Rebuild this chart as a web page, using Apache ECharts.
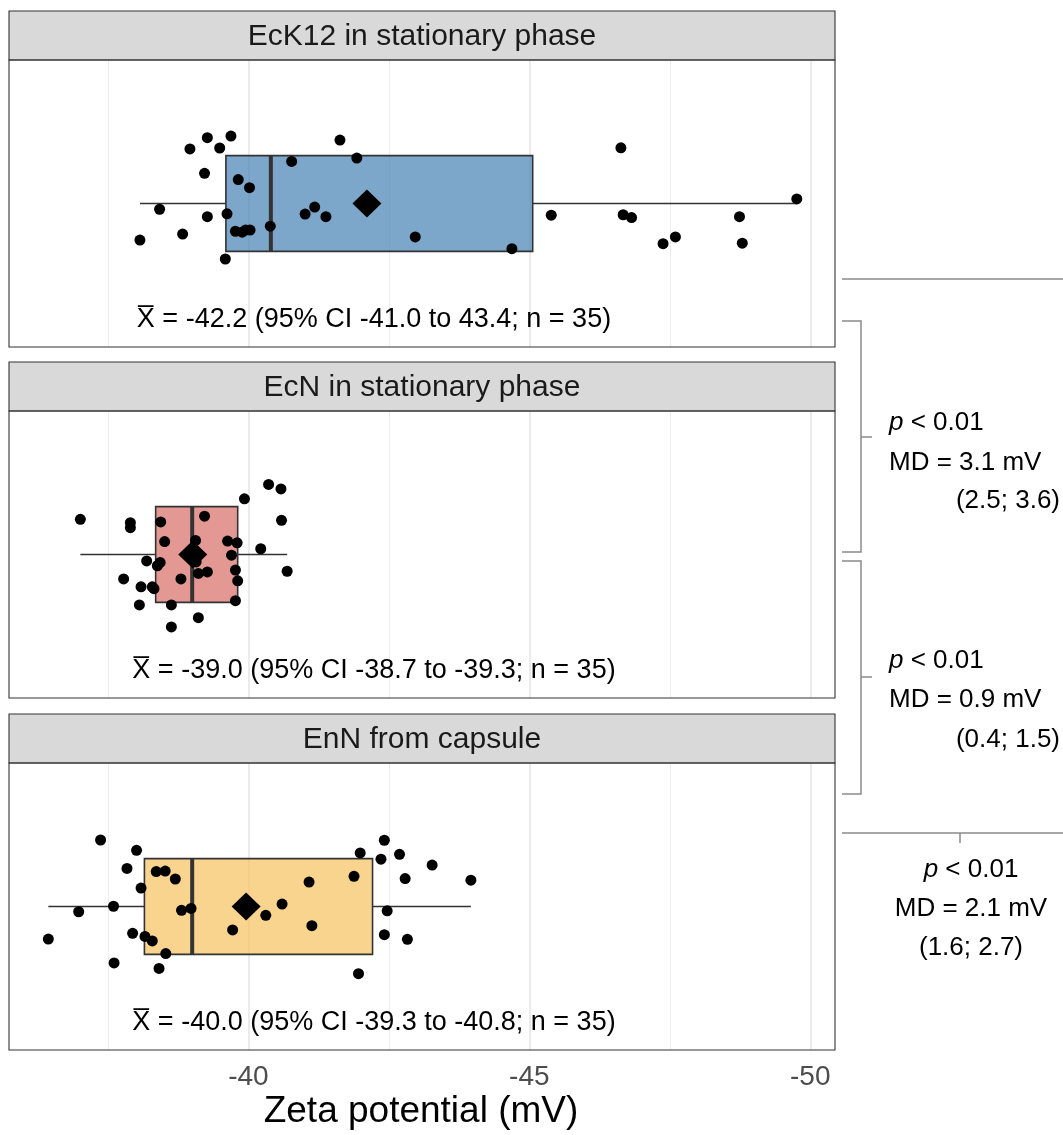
<!DOCTYPE html>
<html><head><meta charset="utf-8">
<script src="https://cdn.jsdelivr.net/npm/echarts@6/dist/echarts.min.js"></script>
<style>html,body{margin:0;padding:0;background:#fff}#c{width:1063px;height:1135px}</style>
</head><body><div id="c"></div><script>
// ---- data ----
const panelTitles = ['EcK12 in stationary phase', 'EcN in stationary phase', 'EnN from capsule'];
const summaryTexts = [
  'X\u0305 = -42.2 (95% CI -41.0 to 43.4; n = 35)',
  'X\u0305 = -39.0 (95% CI -38.7 to -39.3; n = 35)',
  'X\u0305 = -40.0 (95% CI -39.3 to -40.8; n = 35)'
];
const ecK12Values = [-38.07,-38.42,-38.83,-38.96,-39.22,-39.27,-39.27,-39.49,-39.69,-39.62,-39.59,-39.77,-39.82,-39.95,-40.02,-40.03,-39.89,-40.39,-40.77,-41.01,-41.18,-41.38,-41.63,-41.93,-42.97,-44.69,-45.39,-46.63,-46.67,-46.82,-47.38,-47.60,-48.74,-48.79,-49.76];
const ecK12Jitter = [-0.153,-0.024,-0.128,0.228,0.126,0.275,-0.055,0.232,0.282,-0.043,-0.232,-0.116,0.100,-0.111,0.066,-0.111,-0.120,-0.095,0.176,-0.044,-0.015,-0.055,0.265,0.190,-0.140,-0.189,-0.049,0.233,-0.047,-0.059,-0.168,-0.140,-0.055,-0.166,0.019];
const ecNValues = [-37.01,-37.90,-37.90,-37.78,-38.06,-38.09,-38.19,-38.29,-38.32,-38.38,-38.43,-38.44,-38.51,-38.63,-38.63,-38.80,-39.06,-39.11,-39.11,-39.22,-39.27,-39.63,-39.80,-39.70,-39.77,-39.81,-39.77,-39.93,-40.22,-40.36,-40.58,-40.59,-40.69,-38.93,-39.07];
const ecNJitter = [0.147,0.133,0.112,-0.102,-0.211,-0.135,-0.027,-0.135,-0.143,-0.047,-0.033,0.136,0.054,-0.211,-0.303,-0.102,0.059,-0.079,-0.264,0.160,-0.073,0.056,0.049,-0.003,-0.065,-0.110,-0.193,0.233,0.024,0.293,0.274,0.143,-0.070,-0.006,-0.031];
const enNValues = [-36.44,-36.98,-37.37,-37.60,-37.61,-37.84,-37.94,-38.01,-38.09,-38.16,-38.29,-38.36,-38.41,-38.52,-38.53,-38.70,-38.81,-38.98,-39.72,-40.31,-40.60,-41.08,-41.13,-41.88,-41.96,-41.99,-42.36,-42.42,-42.42,-42.47,-42.69,-42.79,-42.83,-43.27,-43.96];
const enNJitter = [-0.136,-0.022,0.278,0.001,-0.236,0.159,-0.112,0.235,0.077,-0.125,-0.144,0.146,-0.259,0.148,-0.197,0.115,-0.016,-0.008,-0.098,-0.037,0.010,0.102,-0.080,0.126,-0.281,0.224,0.198,0.277,-0.118,-0.018,0.218,0.117,-0.137,0.173,0.110];
// [lower whisker, Q1, median, Q3, upper whisker]
const ecK12Box = [-38.07,-39.60,-40.40,-45.06,-49.76];
const ecNBox = [-37.01,-38.35,-39.00,-39.81,-40.69];
const enNBox = [-36.44,-38.15,-39.00,-42.21,-43.96];
const groupMeans = [-42.11,-39.01,-39.96];
const majorTicks = [-40,-45,-50];
const minorTicks = [-37.5,-42.5,-47.5];
const tickLabels = ['-40','-45','-50'];
const axisTitle = 'Zeta potential (mV)';
const compareTexts = [
  ['{i|p} < 0.01', 'MD = 3.1 mV', '(2.5; 3.6)'],
  ['{i|p} < 0.01', 'MD = 0.9 mV', '(0.4; 1.5)'],
  ['{i|p} < 0.01', 'MD = 2.1 mV', '(1.6; 2.7)']
];

// ---- styling / layout ----
const FONT = '"Liberation Sans", Arial, Helvetica, sans-serif';
const boxFills = ['rgba(70,130,180,0.7)','rgba(216,108,101,0.7)','rgba(246,194,94,0.7)'];
const allValues = [ecK12Values, ecNValues, enNValues];
const allJitter = [ecK12Jitter, ecNJitter, enNJitter];
const allBoxes = [ecK12Box, ecNBox, enNBox];
const PL = 9, PW = 826, PH = 287;
const panels = [{strip: 11, top: 60}, {strip: 362, top: 411}, {strip: 714, top: 763}];

const chart = echarts.init(document.getElementById('c'), null, {renderer: 'canvas'});

const grids = [], xAxes = [], yAxes = [], series = [], graphics = [];
panels.forEach((p, i) => {
  grids.push({left: PL, top: p.top, width: PW, height: PH, containLabel: false});
  const last = i === panels.length - 1;
  xAxes.push({
    type: 'value', gridIndex: i, inverse: true, min: -50.44, max: -35.74,
    axisLine: {show: false},
    splitLine: {show: false},
    axisTick: {show: last, customValues: majorTicks, length: 7, lineStyle: {color: '#333', width: 1.5}},
    axisLabel: {show: last, customValues: majorTicks, margin: 13, color: '#4d4d4d', fontSize: 28, fontFamily: FONT,
      formatter: v => tickLabels[majorTicks.indexOf(v)] }
  });
  yAxes.push({type: 'value', gridIndex: i, min: -0.6, max: 0.6, show: false});
  // grid lines
  series.push({
    type: 'scatter', xAxisIndex: i, yAxisIndex: i, data: [], z: 1, silent: true,
    markLine: {
      z: 1, zlevel: 0,
      silent: true, symbol: ['none','none'], label: {show: false}, animation: false,
      data: majorTicks.map(v => ({xAxis: v, lineStyle: {color: '#ebebeb', width: 2, type: 'solid'}}))
        .concat(minorTicks.map(v => ({xAxis: v, lineStyle: {color: '#ededed', width: 1, type: 'solid'}})))
    }
  });
  // box + whiskers
  series.push({
    type: 'custom', xAxisIndex: i, yAxisIndex: i, z: 2,
    itemStyle: {color: boxFills[i]},
    encode: {x: [0,1,2,3,4], y: 5},
    data: [allBoxes[i].concat([0])],
    renderItem: function (params, api) {
      const c = api.value(5);
      const pLo = api.coord([api.value(0), c]);
      const pQ1 = api.coord([api.value(1), c]);
      const pMd = api.coord([api.value(2), c]);
      const pQ3 = api.coord([api.value(3), c]);
      const pHi = api.coord([api.value(4), c]);
      const top = api.coord([api.value(1), c + 0.2])[1];
      const bot = api.coord([api.value(1), c - 0.2])[1];
      const ls = {stroke: '#333333', lineWidth: 1.6};
      return {type: 'group', children: [
        {type: 'line', shape: {x1: pLo[0], y1: pLo[1], x2: pQ1[0], y2: pQ1[1]}, style: ls},
        {type: 'line', shape: {x1: pQ3[0], y1: pQ3[1], x2: pHi[0], y2: pHi[1]}, style: ls},
        {type: 'rect', shape: {x: Math.min(pQ1[0], pQ3[0]), y: top, width: Math.abs(pQ3[0] - pQ1[0]), height: bot - top},
          style: {fill: api.visual('color'), stroke: '#333333', lineWidth: 1.6}},
        {type: 'line', shape: {x1: pMd[0], y1: top, x2: pMd[0], y2: bot}, style: {stroke: '#333333', lineWidth: 4}}
      ]};
    }
  });
  // jittered points
  series.push({
    type: 'scatter', xAxisIndex: i, yAxisIndex: i, z: 3, symbolSize: 11,
    itemStyle: {color: '#000', opacity: 1},
    data: allValues[i].map((v, k) => [v, allJitter[i][k]])
  });
  // mean diamond
  series.push({
    type: 'scatter', xAxisIndex: i, yAxisIndex: i, z: 4, symbol: 'diamond', symbolSize: [29, 28],
    itemStyle: {color: '#000', opacity: 1},
    data: [[groupMeans[i], 0]]
  });
  // strip + border + texts
  graphics.push({type: 'rect', z: 50, shape: {x: PL, y: p.strip, width: PW, height: p.top - p.strip},
    style: {fill: '#d9d9d9', stroke: '#333333', lineWidth: 1.1}});
  graphics.push({type: 'text', z: 51, x: PL + PW / 2, y: p.strip + (p.top - p.strip) / 2 + 1,
    style: {text: panelTitles[i], fill: '#1a1a1a', font: '30px ' + FONT, textAlign: 'center', textVerticalAlign: 'middle'}});
  graphics.push({type: 'rect', z: 50, shape: {x: PL, y: p.top, width: PW, height: PH},
    style: {fill: 'none', stroke: '#333333', lineWidth: 1.1}});
  graphics.push({type: 'text', z: 51, x: 374, y: p.top + 260,
    style: {text: summaryTexts[i], fill: '#000', font: '27px ' + FONT, textAlign: 'center', textVerticalAlign: 'middle'}});
});

// axis title
graphics.push({type: 'text', z: 51, x: 421, y: 1112,
  style: {text: axisTitle, fill: '#000', font: '37px ' + FONT, textAlign: 'center', textVerticalAlign: 'middle'}});

// comparison brackets
const gs = {stroke: '#8a8a8a', lineWidth: 1.5, fill: 'none'};
graphics.push({type: 'line', z: 40, shape: {x1: 842, y1: 279, x2: 1063, y2: 279}, style: gs});
graphics.push({type: 'polyline', z: 40, shape: {points: [[842,321],[861,321],[861,552],[842,552]]}, style: gs});
graphics.push({type: 'line', z: 40, shape: {x1: 861, y1: 437, x2: 872, y2: 437}, style: gs});
graphics.push({type: 'polyline', z: 40, shape: {points: [[842,561],[861,561],[861,794],[842,794]]}, style: gs});
graphics.push({type: 'line', z: 40, shape: {x1: 861, y1: 677, x2: 872, y2: 677}, style: gs});
graphics.push({type: 'line', z: 40, shape: {x1: 842, y1: 833, x2: 1063, y2: 833}, style: gs});
graphics.push({type: 'line', z: 40, shape: {x1: 960, y1: 833, x2: 960, y2: 843}, style: gs});

const rich = {i: {fontStyle: 'italic', fontSize: 26, fontFamily: FONT, fill: '#000'}};
function addText(txt, x, y, align) {
  graphics.push({type: 'text', z: 51, x: x, y: y,
    style: {text: txt, rich: rich, fill: '#000', fontSize: 26, fontFamily: FONT, textAlign: align, textVerticalAlign: 'middle'}});
}
addText(compareTexts[0][0], 889, 423, 'left');
addText(compareTexts[0][1], 889, 463, 'left');
addText(compareTexts[0][2], 1060, 501, 'right');
addText(compareTexts[1][0], 889, 661, 'left');
addText(compareTexts[1][1], 889, 700, 'left');
addText(compareTexts[1][2], 1060, 740, 'right');
addText(compareTexts[2][0], 971, 870, 'center');
addText(compareTexts[2][1], 971, 909, 'center');
addText(compareTexts[2][2], 971, 948, 'center');

chart.setOption({
  animation: false,
  backgroundColor: '#ffffff',
  grid: grids, xAxis: xAxes, yAxis: yAxes, series: series,
  graphic: {elements: graphics}
});
</script></body></html>
